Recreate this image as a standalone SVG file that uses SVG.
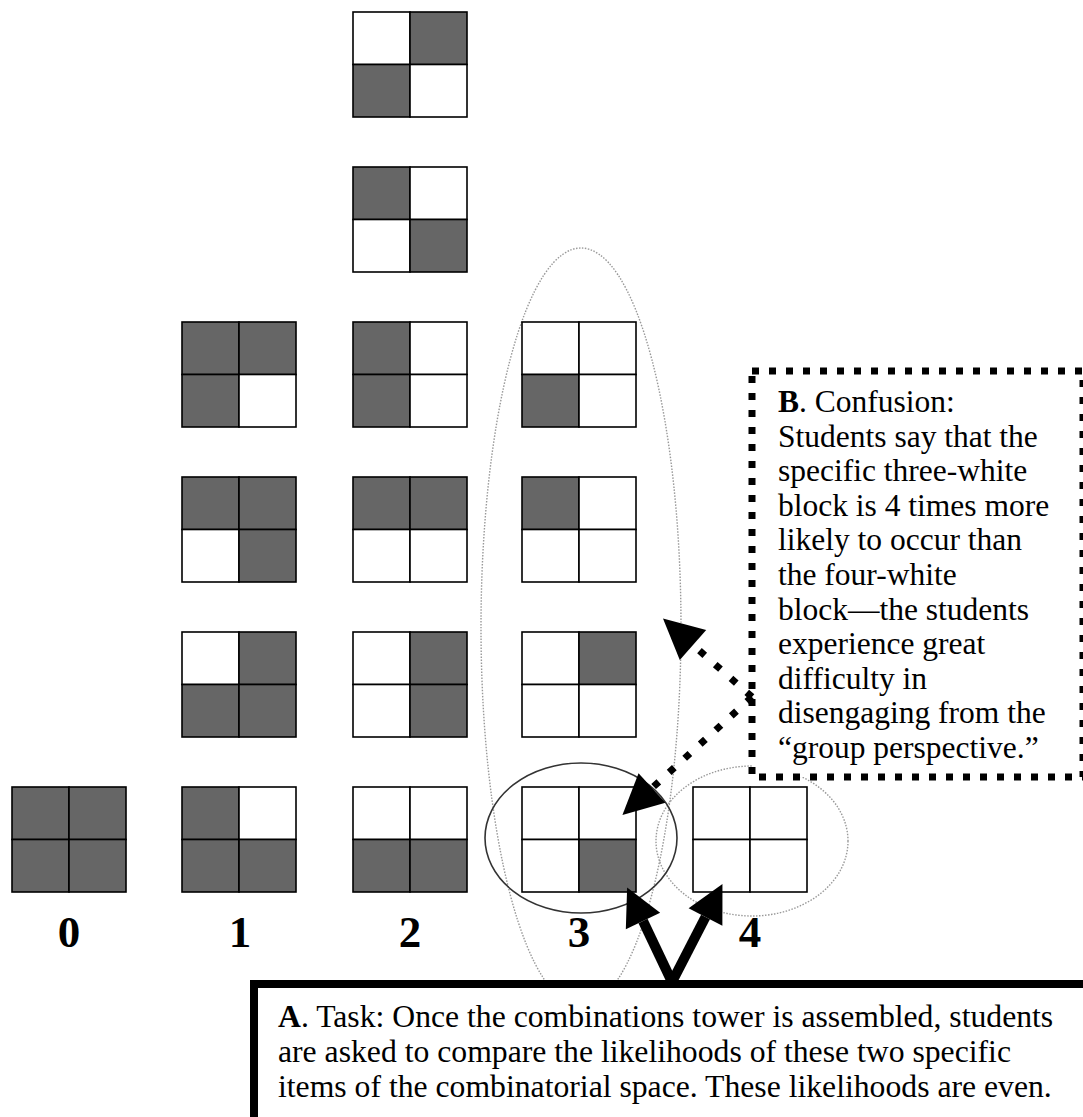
<svg xmlns="http://www.w3.org/2000/svg" width="1083" height="1117" viewBox="0 0 1083 1117">
<style>
.d{fill:#666666;stroke:#000;stroke-width:1.6}
.w{fill:#fff;stroke:#000;stroke-width:1.6}
.num{font-family:"Liberation Serif","Times New Roman",serif;font-weight:bold;font-size:45px;fill:#000;text-anchor:middle}
.txt{font-family:"Liberation Serif","Times New Roman",serif;font-size:31.5px;fill:#000}
.gdot{fill:none;stroke:#999;stroke-width:1.4;stroke-dasharray:1.5 1.5}
</style>
<defs>
<marker id="hs" markerUnits="userSpaceOnUse" viewBox="0 -20 40 40" markerWidth="40" markerHeight="40" refX="0" refY="0" orient="auto" overflow="visible"><path d="M0,-19 L37,0 L0,19 z" fill="#000"/></marker>
<marker id="hd" markerUnits="userSpaceOnUse" viewBox="0 -21 42 42" markerWidth="42" markerHeight="42" refX="0" refY="0" orient="auto" overflow="visible"><path d="M0,-20 L40,0 L0,20 z" fill="#000"/></marker>
</defs>
<rect width="1083" height="1117" fill="#fff"/>

<g id="ellipses">
<ellipse class="gdot" cx="581" cy="627" rx="100" ry="379"/>
<ellipse class="gdot" cx="752" cy="841" rx="96" ry="75"/>
<ellipse cx="581" cy="838" rx="96" ry="75" fill="none" stroke="#333" stroke-width="1.6"/>
</g>

<g id="c0r6" transform="translate(12,787)"><rect class="d" x="0" y="0" width="57" height="52.5"/><rect class="d" x="57" y="0" width="57" height="52.5"/><rect class="d" x="0" y="52.5" width="57" height="52.5"/><rect class="d" x="57" y="52.5" width="57" height="52.5"/></g>

<g id="c1r3" transform="translate(182,322)"><rect class="d" x="0" y="0" width="57" height="52.5"/><rect class="d" x="57" y="0" width="57" height="52.5"/><rect class="d" x="0" y="52.5" width="57" height="52.5"/><rect class="w" x="57" y="52.5" width="57" height="52.5"/></g>
<g id="c1r4" transform="translate(182,477)"><rect class="d" x="0" y="0" width="57" height="52.5"/><rect class="d" x="57" y="0" width="57" height="52.5"/><rect class="w" x="0" y="52.5" width="57" height="52.5"/><rect class="d" x="57" y="52.5" width="57" height="52.5"/></g>
<g id="c1r5" transform="translate(182,632)"><rect class="w" x="0" y="0" width="57" height="52.5"/><rect class="d" x="57" y="0" width="57" height="52.5"/><rect class="d" x="0" y="52.5" width="57" height="52.5"/><rect class="d" x="57" y="52.5" width="57" height="52.5"/></g>
<g id="c1r6" transform="translate(182,787)"><rect class="d" x="0" y="0" width="57" height="52.5"/><rect class="w" x="57" y="0" width="57" height="52.5"/><rect class="d" x="0" y="52.5" width="57" height="52.5"/><rect class="d" x="57" y="52.5" width="57" height="52.5"/></g>

<g id="c2r1" transform="translate(353,12)"><rect class="w" x="0" y="0" width="57" height="52.5"/><rect class="d" x="57" y="0" width="57" height="52.5"/><rect class="d" x="0" y="52.5" width="57" height="52.5"/><rect class="w" x="57" y="52.5" width="57" height="52.5"/></g>
<g id="c2r2" transform="translate(353,167)"><rect class="d" x="0" y="0" width="57" height="52.5"/><rect class="w" x="57" y="0" width="57" height="52.5"/><rect class="w" x="0" y="52.5" width="57" height="52.5"/><rect class="d" x="57" y="52.5" width="57" height="52.5"/></g>
<g id="c2r3" transform="translate(353,322)"><rect class="d" x="0" y="0" width="57" height="52.5"/><rect class="w" x="57" y="0" width="57" height="52.5"/><rect class="d" x="0" y="52.5" width="57" height="52.5"/><rect class="w" x="57" y="52.5" width="57" height="52.5"/></g>
<g id="c2r4" transform="translate(353,477)"><rect class="d" x="0" y="0" width="57" height="52.5"/><rect class="d" x="57" y="0" width="57" height="52.5"/><rect class="w" x="0" y="52.5" width="57" height="52.5"/><rect class="w" x="57" y="52.5" width="57" height="52.5"/></g>
<g id="c2r5" transform="translate(353,632)"><rect class="w" x="0" y="0" width="57" height="52.5"/><rect class="d" x="57" y="0" width="57" height="52.5"/><rect class="w" x="0" y="52.5" width="57" height="52.5"/><rect class="d" x="57" y="52.5" width="57" height="52.5"/></g>
<g id="c2r6" transform="translate(353,787)"><rect class="w" x="0" y="0" width="57" height="52.5"/><rect class="w" x="57" y="0" width="57" height="52.5"/><rect class="d" x="0" y="52.5" width="57" height="52.5"/><rect class="d" x="57" y="52.5" width="57" height="52.5"/></g>

<g id="c3r3" transform="translate(522,322)"><rect class="w" x="0" y="0" width="57" height="52.5"/><rect class="w" x="57" y="0" width="57" height="52.5"/><rect class="d" x="0" y="52.5" width="57" height="52.5"/><rect class="w" x="57" y="52.5" width="57" height="52.5"/></g>
<g id="c3r4" transform="translate(522,477)"><rect class="d" x="0" y="0" width="57" height="52.5"/><rect class="w" x="57" y="0" width="57" height="52.5"/><rect class="w" x="0" y="52.5" width="57" height="52.5"/><rect class="w" x="57" y="52.5" width="57" height="52.5"/></g>
<g id="c3r5" transform="translate(522,632)"><rect class="w" x="0" y="0" width="57" height="52.5"/><rect class="d" x="57" y="0" width="57" height="52.5"/><rect class="w" x="0" y="52.5" width="57" height="52.5"/><rect class="w" x="57" y="52.5" width="57" height="52.5"/></g>
<g id="c3r6" transform="translate(522,787)"><rect class="w" x="0" y="0" width="57" height="52.5"/><rect class="w" x="57" y="0" width="57" height="52.5"/><rect class="w" x="0" y="52.5" width="57" height="52.5"/><rect class="d" x="57" y="52.5" width="57" height="52.5"/></g>

<g id="c4r6" transform="translate(693,787)"><rect class="w" x="0" y="0" width="57" height="52.5"/><rect class="w" x="57" y="0" width="57" height="52.5"/><rect class="w" x="0" y="52.5" width="57" height="52.5"/><rect class="w" x="57" y="52.5" width="57" height="52.5"/></g>

<g id="labels">
<text class="num" x="69" y="947">0</text>
<text class="num" x="240" y="947">1</text>
<text class="num" x="410" y="947">2</text>
<text class="num" x="579" y="947">3</text>
<text class="num" x="750" y="947">4</text>
</g>

<g id="boxB">
<rect x="752" y="371" width="331" height="406" fill="#fff" stroke="#000" stroke-width="7" stroke-dasharray="7 10"/>
<text class="txt">
<tspan x="778" y="412"><tspan font-weight="bold">B</tspan>. Confusion:</tspan>
<tspan x="778" y="446.6">Students say that the</tspan>
<tspan x="778" y="481.2">specific three-white</tspan>
<tspan x="778" y="515.8">block is 4 times more</tspan>
<tspan x="778" y="550.4">likely to occur than</tspan>
<tspan x="778" y="585">the four-white</tspan>
<tspan x="778" y="619.6">block—the students</tspan>
<tspan x="778" y="654.2">experience great</tspan>
<tspan x="778" y="688.8">difficulty in</tspan>
<tspan x="778" y="723.4">disengaging from the</tspan>
<tspan x="778" y="758">“group perspective.”</tspan>
</text>
</g>

<g id="boxA">
<rect x="254" y="984" width="900" height="200" fill="#fff" stroke="#000" stroke-width="8"/>
<text class="txt" style="font-size:31.7px">
<tspan x="278" y="1027"><tspan font-weight="bold">A</tspan>. Task: Once the combinations tower is assembled, students</tspan>
<tspan x="278" y="1062">are asked to compare the likelihoods of these two specific</tspan>
<tspan x="278" y="1097">items of the combinatorial space. These likelihoods are even.</tspan>
</text>
</g>

<g id="connectors">
<line x1="672" y1="982" x2="643" y2="921" stroke="#000" stroke-width="10" marker-end="url(#hs)"/>
<line x1="672" y1="982" x2="705.5" y2="917" stroke="#000" stroke-width="10" marker-end="url(#hs)"/>
<line x1="752" y1="697" x2="693" y2="645" stroke="#000" stroke-width="7" stroke-dasharray="7 14" marker-end="url(#hd)"/>
<line x1="752" y1="697" x2="652" y2="788" stroke="#000" stroke-width="7" stroke-dasharray="7 14" marker-end="url(#hd)"/>
</g>
</svg>
